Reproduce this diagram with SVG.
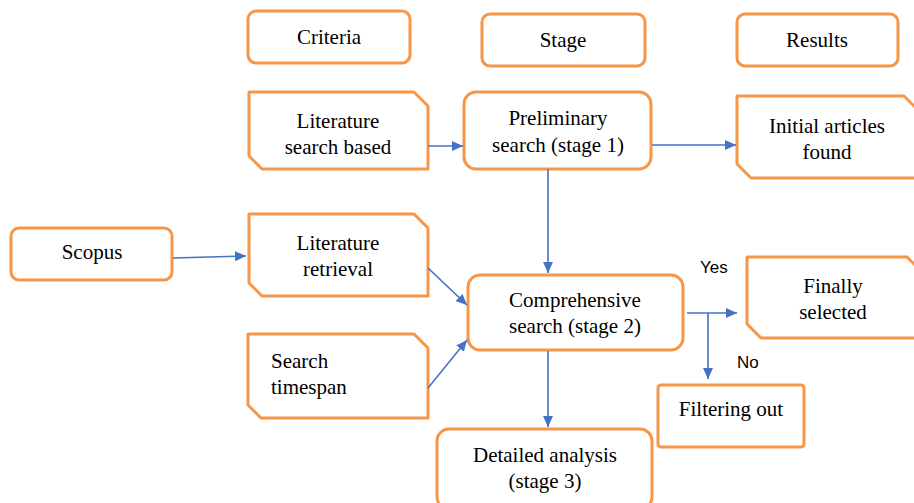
<svg xmlns="http://www.w3.org/2000/svg" width="914" height="503" viewBox="0 0 914 503">
<style>
.box{fill:#fff;stroke:#F79646;stroke-width:3;stroke-linejoin:round}
.t{font-family:'Liberation Serif','DejaVu Serif','Times New Roman',serif;font-size:21px;fill:#000;text-anchor:middle}
.s{font-family:'Liberation Sans','DejaVu Sans',Arial,sans-serif;font-size:17px;fill:#000}
.c{stroke:#4472C4;stroke-width:1.6;fill:none;marker-end:url(#ah)}
</style>
<defs>
<marker id="ah" markerUnits="userSpaceOnUse" markerWidth="12" markerHeight="10" refX="11" refY="5" orient="auto">
<path d="M0,0 L11,5 L0,10 Z" fill="#4472C4"/>
</marker>
</defs>
<rect width="914" height="503" fill="#fff"/>
<g id="criteria"><rect class="box" x="248" y="11" width="162" height="52" rx="8"/><text class="t" font-family="Liberation Serif, serif" x="329" y="44">Criteria</text></g>
<g id="stage"><rect class="box" x="482" y="14" width="163" height="52" rx="8"/><text class="t" x="563" y="47">Stage</text></g>
<g id="results"><rect class="box" x="737" y="14" width="161" height="52" rx="8"/><text class="t" x="817" y="47">Results</text></g>
<g id="lit-search"><path class="box" d="M249,92 H414 L428,106 V169 H262 L249,156 Z"/><text class="t" x="338" y="128">Literature</text><text class="t" x="338" y="154">search based</text></g>
<g id="prelim"><rect class="box" x="464" y="92" width="187" height="77" rx="12"/><text class="t" x="558" y="125">Preliminary</text><text class="t" x="558" y="152">search (stage 1)</text></g>
<g id="initial"><path class="box" d="M737,96 H904 L918,110 V178 H751 L737,164 Z"/><text class="t" x="827" y="133">Initial articles</text><text class="t" x="827" y="159">found</text></g>
<g id="scopus"><rect class="box" x="11" y="228" width="161" height="52" rx="8"/><text class="t" x="92" y="259">Scopus</text></g>
<g id="lit-retrieval"><path class="box" d="M249,214 H414 L428,228 V296 H262 L249,283 Z"/><text class="t" x="338" y="250">Literature</text><text class="t" x="338" y="276">retrieval</text></g>
<g id="comprehensive"><rect class="box" x="468" y="275" width="215" height="75" rx="12"/><text class="t" x="575" y="307">Comprehensive</text><text class="t" x="575" y="333">search (stage 2)</text></g>
<g id="timespan"><path class="box" d="M248,334 H414 L428,348 V418 H261 L248,405 Z"/><text class="t" x="271" y="368" style="text-anchor:start">Search</text><text class="t" x="271" y="394" style="text-anchor:start">timespan</text></g>
<g id="detailed"><rect class="box" x="437" y="429" width="215" height="80" rx="12"/><text class="t" x="545" y="462">Detailed analysis</text><text class="t" x="545" y="488">(stage 3)</text></g>
<g id="final"><path class="box" d="M747,257 H907 L921,271 V338 H761 L747,324 Z"/><text class="t" x="833" y="293">Finally</text><text class="t" x="833" y="319">selected</text></g>
<g id="filter"><rect class="box" x="658" y="385" width="146" height="62" rx="3"/><text class="t" x="731" y="416">Filtering out</text></g>
<g id="connectors">
<line class="c" x1="428" y1="146" x2="463" y2="146"/>
<line class="c" x1="652" y1="145" x2="736" y2="145"/>
<line class="c" x1="548" y1="169" x2="548" y2="273"/>
<line class="c" x1="173" y1="258" x2="246" y2="256"/>
<line class="c" x1="428" y1="268" x2="467" y2="305"/>
<line class="c" x1="428" y1="388" x2="467" y2="340"/>
<line class="c" x1="548" y1="351" x2="548" y2="427"/>
<line class="c" x1="687" y1="313" x2="737" y2="313"/>
<line class="c" x1="708" y1="313" x2="708" y2="379"/>
<text class="s" x="700" y="273">Yes</text>
<text class="s" x="737" y="368">No</text>
</g>
</svg>
